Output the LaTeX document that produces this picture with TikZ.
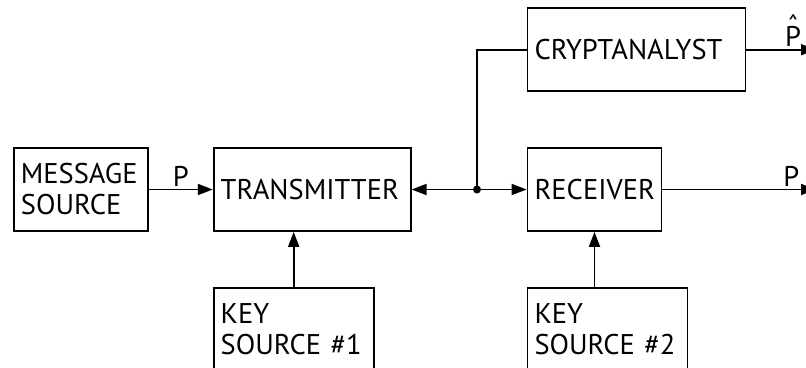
\documentclass[tikz,border=0pt]{standalone}
\usepackage{fontspec}
\setmainfont{PT Sans}
\usetikzlibrary{arrows.meta, positioning}
\tikzstyle{block} = [draw, rectangle, minimum height=83pt, align=left, inner xsep=7pt, font=\fontsize{28.5}{31}\selectfont]
\tikzstyle{lbl} = [font=\fontsize{28.5}{31}\selectfont, inner sep=2pt]
\newcommand{\phat}{\ooalign{P\cr\hidewidth\raisebox{0.38em}{ˆ}\hidewidth\cr}}

\begin{document}
\begin{tikzpicture}[x=1pt, y=-1pt, line width=1.8pt, >={Triangle[length=15pt,width=11pt]}]
  \useasboundingbox (0,0) rectangle (806,367);
  \clip (0,0) rectangle (806,367);
  % boxes
  \node[block, text width=120pt, anchor=west] (msg) at (13,189.5) {MESSAGE\\SOURCE};
  \node[block, text width=183pt, right=64pt of msg] (tx) {TRANSMITTER};
  \node[block, text width=120pt, right=115pt of tx] (rx) {RECEIVER};
  \node[block, text width=204pt, above=55pt of rx.north west, anchor=south west] (crypt) {CRYPTANALYST};
  \node[block, text width=146pt, below=55pt of tx.south west, anchor=north west] (key1) {KEY\\SOURCE \#1};
  \node[block, text width=146pt, below=55pt of rx.south west, anchor=north west] (key2) {KEY\\SOURCE \#2};
  \coordinate (tap) at (477,189.5);
  \coordinate (out) at (816,0);
  % connectors
  \draw[->] (msg) -- (tx) node[lbl, midway, above] {P};
  \draw[<->] (tx) -- (rx);
  \fill (tap) circle (4pt);
  \draw (tap) |- (crypt);
  \draw[->] (crypt) -- (crypt -| out) node[lbl, pos=0.67, above] {\phat};
  \draw[->] (rx) -- (rx -| out) node[lbl, pos=0.84, above] {P};
  \draw[->] (key1) -- (key1 |- tx.south);
  \draw[->] (rx |- key2.north) -- (rx);
\end{tikzpicture}
\end{document}
